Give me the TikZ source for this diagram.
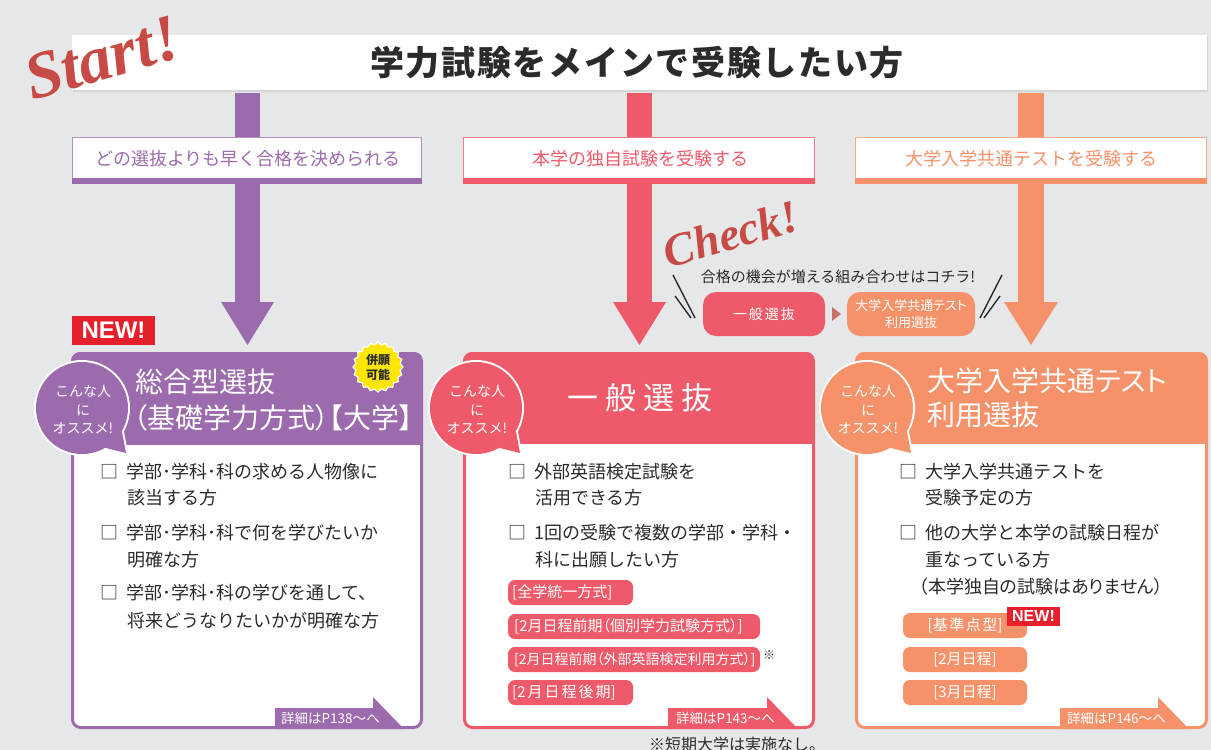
\documentclass[tikz,border=0pt]{standalone}
\usepackage{fontspec}
\usetikzlibrary{shapes.geometric}
\newfontfamily\jp{Noto Sans CJK JP}
\newfontfamily\jpp{Noto Sans CJK JP}[RawFeature=+palt]
\newfontfamily\jpt{Noto Sans CJK JP}[LetterSpace=5]
\newfontfamily\arl{Liberation Sans}
\newfontfamily\scr{Liberation Serif}
\definecolor{bg}{HTML}{E6E7E9}
\definecolor{purp}{HTML}{9B6BAD}
\definecolor{redc}{HTML}{EF5A6A}
\definecolor{orac}{HTML}{F5926A}
\definecolor{newred}{HTML}{E5202A}
\definecolor{yel}{HTML}{FFE600}
\definecolor{scriptred}{HTML}{C84A44}
\definecolor{darkt}{HTML}{2B2B2B}
\definecolor{tri}{HTML}{C8716B}
\tikzset{
  lbl/.style={font=\jp\fontsize{18}{18}\selectfont, inner sep=0pt},
  chk/.style={font=\jp\fontsize{18}{18}\selectfont, text=darkt, anchor=west, inner sep=0pt},
  bub/.style={font=\jp\fontsize{14}{18.5}\selectfont, text=white, align=center, inner sep=0pt},
  pilltxt/.style={font=\jp\fontsize{14}{14}\selectfont, text=white, inner sep=0pt},
  tabtxt/.style={font=\jpp\fontsize{13.5}{13.5}\selectfont, text=white, anchor=west, inner sep=0pt},
  hdr/.style={font=\jpp\fontsize{28}{28}\selectfont, text=white, anchor=west, inner sep=0pt},
  newtxt/.style={font=\arl\bfseries, text=white, inner sep=0pt},
}
\begin{document}
\begin{tikzpicture}[x=1pt,y=-1pt]
\useasboundingbox (0,0) rectangle (1211,750);
\fill[bg] (0,0) rectangle (1211,750);

% ---------- vertical bars with arrowheads ----------
\fill[purp] (235,88) rectangle (260,304);
\fill[purp] (221,302) -- (274,302) -- (247.5,345) -- cycle;
\fill[redc] (627,88) rectangle (652,304);
\fill[redc] (613,302) -- (666,302) -- (639.5,345) -- cycle;
\fill[orac] (1018,88) rectangle (1044,304);
\fill[orac] (1004,302) -- (1058,302) -- (1031,345) -- cycle;

% ---------- title bar ----------
\fill[black!10] (73,37) rectangle (1209,93);
\fill[black!16] (73,36) rectangle (1208,91.5);
\fill[white] (72,35) rectangle (1207,90);
\node[font=\jpt\bfseries\fontsize{34}{34}\selectfont, text=darkt, inner sep=0pt] (title) at (637,63) {学力試験をメインで受験したい方};
\node[rotate=16, font=\scr\bfseries\itshape\fontsize{66}{66}\selectfont, text=scriptred, inner sep=0pt] (start) at (102,58) {Start!};

% ---------- label boxes ----------
\fill[white] (72,137) rectangle (422,183);
\draw[purp!75, line width=1.2] (72.6,137.6) rectangle (421.4,182);
\fill[purp] (72,178) rectangle (422,184);
\node[lbl, text=purp] (l1) at (248,159) {どの選抜よりも早く合格を決められる};

\fill[white] (463,137) rectangle (815,183);
\draw[redc!80, line width=1.2] (463.6,137.6) rectangle (814.4,182);
\fill[redc] (463,178) rectangle (815,184);
\node[lbl, text=redc] (l2) at (640,159) {本学の独自試験を受験する};

\fill[white] (855,137) rectangle (1207,183);
\draw[orac!80, line width=1.2] (855.6,137.6) rectangle (1206.4,182);
\fill[orac] (855,178) rectangle (1207,184);
\node[lbl, text=orac] (l3) at (1031,159) {大学入学共通テストを受験する};

% ---------- Check! ----------
\node[rotate=16, font=\scr\bfseries\itshape\fontsize{46}{46}\selectfont, text=scriptred, inner sep=0pt] (check) at (731,234) {Check!};
\node[font=\jp\fontsize{15}{15}\selectfont, text=darkt, inner sep=0pt] (combo) at (838,277) {合格の機会が増える組み合わせはコチラ!};
\node[fill=redc, rounded corners=13, minimum width=122, minimum height=44, inner sep=0pt, font=\jp\fontsize{14}{14}\selectfont, text=white] (ipp) at (764,314) {一\hspace{2pt}般\hspace{2pt}選\hspace{2pt}抜};
\node[fill=orac, rounded corners=13, minimum width=128, minimum height=44, inner sep=0pt, align=center, font=\jpp\fontsize{13}{17}\selectfont, text=white] (kyo) at (911,314) {大学入学共通テスト\\利用選抜};
\fill[tri] (832,307) -- (841,314) -- (832,321) -- cycle;
\coordinate (s1a) at (673,275); \coordinate (s1b) at (695,318);
\coordinate (s2a) at (675,296); \coordinate (s2b) at (691,318);
\coordinate (s3a) at (1002,275); \coordinate (s3b) at (980,318);
\coordinate (s4a) at (1000,296); \coordinate (s4b) at (984,318);
\draw[darkt, line width=1.4] (s1a) -- (s1b) (s2a) -- (s2b) (s3a) -- (s3b) (s4a) -- (s4b);

% ---------- purple card ----------
\begin{scope}
\clip[rounded corners=9] (71,352) rectangle (423,729);
\fill[white] (71,352) rectangle (423,729);
\fill[purp] (71,352) rectangle (423,445);
\end{scope}
\draw[purp, line width=3, rounded corners=8] (72.5,353.5) rectangle (421.5,727.5);
\fill[purp] (275,708) -- (373,708) -- (373,697) -- (404,729) -- (275,729) -- cycle;
\node[tabtxt] (t1) at (281,718) {詳細はP138～へ};
\node[hdr] (h1a) at (135,382) {総合型選抜};
\node[hdr] (h1b) at (133,418) {（基礎学力方式）【大学】};
\node[star, star points=20, star point ratio=1.12, fill=yel, draw=white, line width=1.2, minimum size=50, inner sep=0pt] (badge) at (378,367) {};
\node[font=\jp\bfseries\fontsize{12}{15}\selectfont, text=darkt, align=center, inner sep=0pt] (badget) at (badge) {併願\\可能};
\node[fill=newred, minimum width=83, minimum height=29, inner sep=0pt, newtxt, font=\arl\bfseries\fontsize{24}{24}\selectfont] (new1) at (113.5,330.5) {NEW!};
% bubble
\draw[white, line width=4] (82,408) circle (46);
\draw[white, line width=4, line join=round] (121.8,431) -- (126,453) -- (105,447.8) -- cycle;
\fill[purp] (82,408) circle (46);
\fill[purp] (121.8,431) -- (126,453) -- (105,447.8) -- cycle;
\node[bub] (b1) at (83,410) {こんな人\\に\\オススメ!};
% checklist
\node[chk] (c1a) at (100,472) {□\hspace{8pt}学部･学科･科の求める人物像に};
\node[chk] (c1b) at (127,498) {該当する方};
\node[chk] (c1c) at (100,533) {□\hspace{8pt}学部･学科･科で何を学びたいか};
\node[chk] (c1d) at (127,560) {明確な方};
\node[chk] (c1e) at (100,593) {□\hspace{8pt}学部･学科･科の学びを通して、};
\node[chk] (c1f) at (127,621) {将来どうなりたいかが明確な方};

% ---------- red card ----------
\begin{scope}
\clip[rounded corners=9] (463,352) rectangle (815,729);
\fill[white] (463,352) rectangle (815,729);
\fill[redc] (463,352) rectangle (815,444);
\end{scope}
\draw[redc, line width=3, rounded corners=8] (464.5,353.5) rectangle (813.5,727.5);
\fill[redc] (668,708) -- (767,708) -- (767,697) -- (798,729) -- (668,729) -- cycle;
\node[tabtxt] (t2) at (676,718) {詳細はP143～へ};
\node[font=\jp\fontsize{31}{31}\selectfont, text=white, inner sep=0pt] (h2) at (640,398) {一\hspace{7pt}般\hspace{7pt}選\hspace{7pt}抜};
\draw[white, line width=4] (476,408) circle (46);
\draw[white, line width=4, line join=round] (515.8,431) -- (520,453) -- (499,447.8) -- cycle;
\fill[redc] (476,408) circle (46);
\fill[redc] (515.8,431) -- (520,453) -- (499,447.8) -- cycle;
\node[bub] (b2) at (477,410) {こんな人\\に\\オススメ!};
\node[chk] (c2a) at (508,472) {□\hspace{8pt}外部英語検定試験を};
\node[chk] (c2b) at (535,498) {活用できる方};
\node[chk] (c2c) at (508,533) {□\hspace{8pt}1回の受験で複数の学部・学科・};
\node[chk] (c2d) at (535,560) {科に出願したい方};
\fill[redc, rounded corners=7] (508,580) rectangle (633,605);
\node[pilltxt, anchor=west, font=\jp\fontsize{15}{15}\selectfont] (p1) at (512,592.5) {[全学統一方式]};
\fill[redc, rounded corners=7] (508,614) rectangle (760,639);
\node[pilltxt, anchor=west, font=\jpp\fontsize{15}{15}\selectfont] (p2) at (514,626.5) {[2月日程前期（個別学力試験方式）]};
\fill[redc, rounded corners=7] (508,647) rectangle (760,672);
\node[pilltxt, anchor=west, font=\jpp\fontsize{14}{14}\selectfont] (p3) at (514,659.5) {[2月日程前期（外部英語検定利用方式）]};
\node[font=\jp\fontsize{12}{12}\selectfont, text=darkt, inner sep=0pt] (kome) at (769,655) {※};
\fill[redc, rounded corners=7] (508,680) rectangle (633,705);
\node[pilltxt, anchor=west, font=\jp\fontsize{15}{15}\selectfont] (p4) at (512,692.5) {[2\hspace{2pt}月\hspace{2pt}日\hspace{2pt}程\hspace{2pt}後\hspace{2pt}期]};
\node[font=\jp\fontsize{16}{16}\selectfont, text=darkt, inner sep=0pt] (foot) at (737,744) {※短期大学は実施なし。};

% ---------- orange card ----------
\begin{scope}
\clip[rounded corners=9] (855,352) rectangle (1208,729);
\fill[white] (855,352) rectangle (1208,729);
\fill[orac] (855,352) rectangle (1208,444);
\end{scope}
\draw[orac, line width=3, rounded corners=8] (856.5,353.5) rectangle (1206.5,727.5);
\fill[orac] (1060,708) -- (1158,708) -- (1158,697) -- (1189,729) -- (1060,729) -- cycle;
\node[tabtxt] (t3) at (1067,718) {詳細はP146～へ};
\node[hdr] (h3a) at (927,381) {大学入学共通テスト};
\node[hdr] (h3b) at (927,415) {利用選抜};
\draw[white, line width=4] (867,408) circle (46);
\draw[white, line width=4, line join=round] (906.8,431) -- (911,453) -- (890,447.8) -- cycle;
\fill[orac] (867,408) circle (46);
\fill[orac] (906.8,431) -- (911,453) -- (890,447.8) -- cycle;
\node[bub] (b3) at (868,410) {こんな人\\に\\オススメ!};
\node[chk] (c3a) at (899,472) {□\hspace{8pt}大学入学共通テストを};
\node[chk] (c3b) at (925,498) {受験予定の方};
\node[chk] (c3c) at (899,533) {□\hspace{8pt}他の大学と本学の試験日程が};
\node[chk] (c3d) at (925,560) {重なっている方};
\node[chk, font=\jpp\fontsize{18}{18}\selectfont] (c3e) at (919,587) {（本学独自の試験はありません）};
\fill[orac, rounded corners=7] (903,613) rectangle (1027,638);
\node[pilltxt, font=\jp\fontsize{15}{15}\selectfont] (q1) at (965,625.5) {[基\hspace{1.5pt}準\hspace{1.5pt}点\hspace{1.5pt}型]};
\fill[orac, rounded corners=7] (903,647) rectangle (1027,672);
\node[pilltxt, font=\jp\fontsize{15}{15}\selectfont] (q2) at (965,659.5) {[2月日程]};
\fill[orac, rounded corners=7] (903,680) rectangle (1027,705);
\node[pilltxt, font=\jp\fontsize{15}{15}\selectfont] (q3) at (965,692.5) {[3月日程]};
\node[fill=newred, minimum width=53, minimum height=19, inner sep=0pt, newtxt, font=\arl\bfseries\fontsize{16}{16}\selectfont] (new2) at (1033.5,616) {NEW!};
\end{tikzpicture}
\end{document}
